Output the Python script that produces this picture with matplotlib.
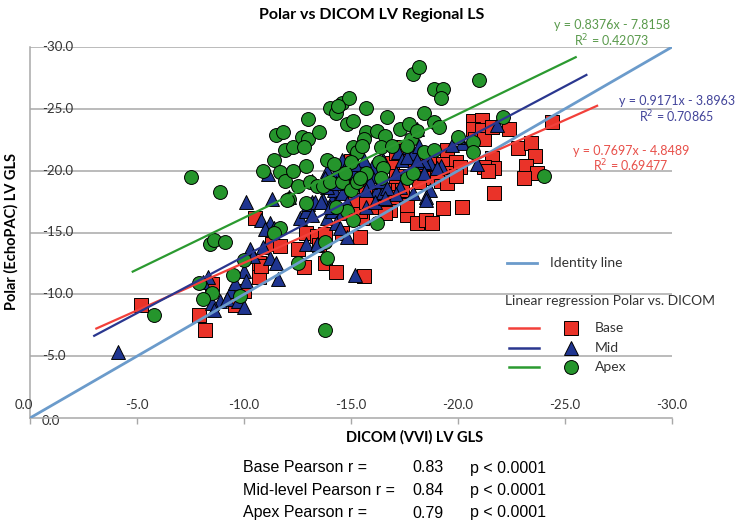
import matplotlib
matplotlib.use("Agg")
import matplotlib.pyplot as plt
from matplotlib.lines import Line2D

plt.rcParams['font.family'] = ['Lato', 'DejaVu Sans']

# ---------------------------------------------------------------------------
# Data (DICOM VVI GLS on x, Polar EchoPAC GLS on y)

base_x = [-5.2, -7.9, -8.2, -8.5, -9.6, -10.0, -10.7, -10.5, -10.7, -10.8,
          -11.3, -11.7, -12.5, -12.9, -12.8, -13.4, -13.8, -13.5, -13.8, -14.3,
          -14.6, -15.0, -15.4, -21.7, -19.3, -20.2, -17.6, -18.1, -18.5, -18.8,
          -15.5, -15.4, -15.6, -16.2, -16.8, -15.7, -17.2, -17.6, -20.7, -21.1,
          -20.7, -21.1, -20.8, -21.2, -21.6, -22.4, -21.6, -21.7, -21.2, -21.4,
          -19.5, -18.7, -19.3, -19.9, -19.6, -18.8, -19.2, -19.5, -17.3, -17.4,
          -16.9, -16.9, -17.2, -17.8, -18.0, -18.2, -15.5, -15.7, -22.8, -23.4,
          -23.6, -23.2, -23.7, -23.1, -24.4, -14.8, -17.1, -17.1, -17.4, -16.9,
          -16.3, -15.2, -15.7, -16.6, -20.1, -19.0, -18.4, -19.9, -15.0]
base_y = [-9.1, -8.3, -7.1, -10.8, -9.1, -10.3, -11.4, -16.2, -12.5, -12.3,
          -14.1, -13.9, -13.7, -15.0, -12.2, -14.7, -14.9, -14.0, -12.5, -11.8,
          -15.0, -20.8, -14.6, -18.2, -17.0, -17.1, -16.4, -15.8, -16.0, -15.8,
          -16.2, -16.7, -11.5, -17.1, -16.8, -17.9, -17.9, -17.2, -24.0, -24.1,
          -23.4, -23.3, -22.6, -22.6, -23.5, -23.4, -21.0, -20.2, -20.3, -20.0,
          -21.7, -21.1, -20.5, -20.7, -19.8, -19.4, -19.2, -19.0, -21.9, -21.6,
          -20.6, -18.4, -18.8, -19.6, -20.0, -19.1, -19.0, -18.4, -21.8, -22.2,
          -21.2, -20.4, -19.8, -19.4, -23.9, -20.4, -21.4, -19.6, -18.4, -17.9,
          -18.2, -17.6, -17.5, -16.6, -20.3, -19.9, -20.5, -19.6, -19.5]

mid_x = [-4.1, -10.1, -11.3, -11.1, -10.8, -11.2, -11.0, -11.4, -12.6, -12.9,
         -13.2, -13.0, -12.1, -10.3, -10.4, -10.9, -11.2, -11.5, -11.6, -10.0,
         -10.1, -9.4, -9.6, -8.9, -9.2, -8.5, -8.6, -9.7, -10.0, -8.3,
         -8.1, -12.9, -13.4, -13.7, -14.1, -14.2, -13.9, -14.3, -14.6, -13.9,
         -14.3, -14.8, -15.2, -14.1, -14.6, -14.8, -15.2, -13.2, -14.3, -14.5,
         -14.6, -14.8, -18.1, -21.8, -14.7, -15.3, -16.0, -16.0, -16.5, -17.2,
         -17.4, -17.7, -17.9, -18.2, -18.7, -19.2, -18.4, -17.8, -18.4, -17.1,
         -20.2, -20.9, -20.0, -19.7, -18.7, -18.5, -16.2, -16.5, -17.3, -17.1,
         -13.2, -13.8, -13.9, -14.3, -15.9, -16.4, -13.3, -15.7, -16.7, -13.6,
         -14.0, -15.7, -16.1, -16.6, -17.9, -18.5, -15.6, -15.2, -17.6, -19.0,
         -18.1]
mid_y = [-5.3, -17.5, -17.7, -19.7, -16.0, -15.8, -15.3, -15.4, -16.2, -16.7,
         -17.5, -17.3, -17.9, -13.7, -13.1, -13.8, -12.9, -12.5, -11.2, -11.9,
         -11.1, -10.3, -10.9, -9.5, -9.6, -9.3, -8.7, -9.5, -9.0, -11.4,
         -11.0, -14.1, -14.1, -17.6, -17.6, -18.4, -16.2, -17.4, -20.9, -20.0,
         -19.9, -19.8, -19.9, -16.7, -16.6, -14.6, -11.6, -16.4, -15.8, -15.4,
         -18.2, -17.4, -23.4, -23.7, -20.2, -19.3, -20.3, -19.6, -20.9, -21.5,
         -20.9, -21.9, -21.4, -22.0, -20.6, -20.4, -20.7, -19.9, -19.8, -19.8,
         -22.2, -20.5, -22.7, -22.1, -18.4, -17.9, -18.4, -18.3, -18.7, -18.1,
         -19.2, -19.4, -18.7, -19.0, -19.1, -19.2, -17.5, -18.4, -18.6, -17.5,
         -17.1, -17.1, -17.5, -17.8, -18.2, -17.6, -20.9, -20.5, -21.1, -20.2,
         -20.9]

apex_x = [-7.5, -8.9, -8.4, -8.6, -9.1, -5.8, -7.9, -8.5, -8.1, -9.5,
          -9.8, -10.0, -10.9, -11.4, -11.7, -11.9, -12.3, -12.9, -12.5, -11.5,
          -11.8, -11.9, -12.3, -12.7, -13.0, -12.8, -13.5, -13.0, -13.1, -13.4,
          -13.7, -12.1, -11.7, -11.4, -12.5, -13.8, -13.9, -13.8, -14.0, -14.3,
          -14.6, -14.8, -15.1, -13.9, -14.2, -15.1, -15.3, -14.0, -14.6, -15.0,
          -14.8, -15.1, -17.9, -18.2, -21.0, -18.9, -19.3, -19.2, -15.7, -16.7,
          -18.4, -17.3, -17.7, -18.9, -19.1, -15.7, -16.2, -15.6, -16.6, -17.8,
          -18.1, -15.5, -16.4, -16.9, -17.6, -18.4, -18.9, -20.0, -20.7, -20.7,
          -22.1, -15.0, -16.3, -16.5, -15.7, -16.4, -17.6, -17.9, -15.3, -14.7,
          -24.0, -16.2, -12.0, -12.9, -14.3, -14.9, -14.4, -15.4]
apex_y = [-19.5, -18.3, -14.1, -14.4, -14.2, -8.3, -10.9, -10.1, -9.6, -11.6,
          -9.9, -12.8, -20.0, -20.9, -19.9, -19.2, -20.0, -20.4, -18.8, -22.9,
          -23.1, -21.7, -21.9, -22.7, -22.6, -21.9, -23.1, -24.2, -19.1, -18.8,
          -18.8, -17.7, -15.4, -15.0, -12.5, -14.2, -12.9, -7.1, -25.1, -24.7,
          -25.5, -23.8, -24.0, -20.9, -20.5, -21.9, -21.5, -19.1, -19.1, -18.4,
          -16.7, -16.0, -27.8, -28.4, -27.3, -26.6, -26.6, -25.9, -25.1, -24.3,
          -24.7, -23.4, -23.8, -23.9, -23.5, -23.1, -23.2, -22.6, -22.8, -22.6,
          -23.2, -22.0, -21.9, -22.0, -22.0, -21.5, -21.7, -22.7, -22.3, -21.5,
          -24.3, -20.7, -20.7, -20.2, -19.8, -19.4, -19.4, -19.8, -19.1, -19.8,
          -19.6, -15.8, -17.6, -17.4, -17.1, -25.9, -25.2, -19.4]

# trendline coefficients and the x range each one is drawn over
series_names = ['Base', 'Mid', 'Apex']
slopes = [0.7697, 0.9171, 0.8376]
intercepts = [-4.8489, -3.8963, -7.8158]
r_squared = [0.69477, 0.70865, 0.42073]
trend_x = [(-3.1, -26.5), (-3.0, -26.0), (-4.8, -25.5)]
pearson_r = ['0.83', '0.84', '0.79']
pearson_labels = ['Base Pearson r =', 'Mid-level Pearson r =', 'Apex Pearson r =']
ticks = [0, -5, -10, -15, -20, -25, -30]

# ---------------------------------------------------------------------------
RED = '#ea3329'
BLUE = '#1f3590'
GREEN = '#25952c'
IDENT = '#6b9bcb'
LINE_COLORS = ['#f2403a', '#2a378f', '#2b9a30']
TXT_COLORS = ['#e8504a', '#42449a', '#5a9a4c']
GRID = '#a8a8a8'

fig = plt.figure(figsize=(7.4, 5.23), dpi=100)
ax = fig.add_axes([30/740, 1-418/523, 642/740, 371/523])
ax.set_xlim(0, -30)
ax.set_ylim(0, -30)

for t in ticks[1:]:
    ax.axhline(t, color=GRID, lw=1.1, zorder=0)

ax.scatter(base_x, base_y, marker='s', s=88, c=RED, edgecolors='black',
           linewidths=0.7, zorder=3)
ax.scatter(mid_x, mid_y, marker='^', s=100, c=BLUE, edgecolors='black',
           linewidths=0.7, zorder=4)
ax.scatter(apex_x, apex_y, marker='o', s=100, c=GREEN, edgecolors='black',
           linewidths=0.7, zorder=5)

# identity line and regression lines
ax.plot([0, -30], [0, -30], color=IDENT, lw=2, zorder=6)
for m, b, (x0, x1), col in zip(slopes, intercepts, trend_x, LINE_COLORS):
    ax.plot([x0, x1], [m*x0 + b, m*x1 + b], color=col, lw=1.6, zorder=7)

for side in ['top', 'right']:
    ax.spines[side].set_visible(False)
for side in ['left', 'bottom']:
    ax.spines[side].set_color(GRID)
    ax.spines[side].set_linewidth(1.1)
ax.set_xticks(ticks)
ax.set_yticks([])
ax.tick_params(axis='x', colors=GRID, length=4, width=1, labelbottom=False)

# tick labels sit inside the plot like in the Excel original
for t in ticks:
    ax.annotate('%.1f' % t if t else '0.0', xy=(t, 0), xycoords='data',
                xytext=(-6 if t == 0 else 0, 13), textcoords='offset pixels',
                ha='center', va='center', fontsize=9.5, color='#333333')
    ax.annotate('%.1f' % t if t else '0.0', xy=(0, t), xycoords='data',
                xytext=(12, -3 if t == 0 else 0), textcoords='offset pixels',
                ha='left', va='center', fontsize=9.5, color='#333333',
                zorder=1)

# ---------------------------------------------------------------------------
# overlay in pixel units for titles, legend and annotations
ov = fig.add_axes([0, 0, 1, 1], facecolor='none')
ov.set_xlim(0, 740)
ov.set_ylim(523, 0)
ov.axis('off')

ov.text(372, 15, 'Polar vs DICOM LV Regional LS', ha='center', va='center',
        fontsize=11.5, fontweight='bold', color='black')
ov.text(415, 437, 'DICOM (VVI) LV GLS', ha='center', va='center',
        fontsize=10.5, fontweight='bold', color='black')
ov.text(11, 231, 'Polar (EchoPAC) LV GLS', ha='center', va='center',
        rotation=90, fontsize=10.5, fontweight='bold', color='black')

# regression equations
eq_pos = [(631, 151, 166), (677, 101, 117), (612, 25, 41)]
for m, b, r2, (cx, y0, y1), col in zip(slopes, intercepts, r_squared, eq_pos, TXT_COLORS):
    ov.text(cx, y0, 'y = %.4fx - %.4f' % (m, -b), ha='center', va='center',
            fontsize=9, color=col)
    ov.text(cx, y1, 'R$^2$ = %.5f' % r2, ha='center', va='center',
            fontsize=9, color=col)

# legend
ov.add_line(Line2D([507, 537], [263, 263], color=IDENT, lw=2))
ov.text(550, 263, 'Identity line', ha='left', va='center', fontsize=10,
        color='#333333')
ov.text(505, 301, 'Linear regression Polar vs. DICOM', ha='left', va='center',
        fontsize=10, color='#333333')
markers = ['s', '^', 'o']
faces = [RED, BLUE, GREEN]
for i, (name, mk, fc, lc) in enumerate(zip(series_names, markers, faces, LINE_COLORS)):
    yy = 328 + i*19.5
    ov.add_line(Line2D([509, 539], [yy, yy], color=lc, lw=1.8))
    ov.add_line(Line2D([571], [yy], marker=mk, markersize=10,
                       markerfacecolor=fc, markeredgecolor='black',
                       markeredgewidth=0.7, lw=0))
    ov.text(595, yy, name, ha='left', va='center', fontsize=10, color='#333333')

# Pearson block under the chart
pfont = ['Liberation Sans Narrow', 'Liberation Sans', 'DejaVu Sans']
for i, (lab, r) in enumerate(zip(pearson_labels, pearson_r)):
    yy = 468 + i*22.5
    ov.text(243, yy, lab, ha='left', va='center', fontsize=11.5,
            family=pfont, color='black')
    ov.text(412, yy, r, ha='left', va='center', fontsize=11.5,
            family=pfont, color='black')
    ov.text(470, yy, 'p < 0.0001', ha='left', va='center', fontsize=11.5,
            family=pfont, color='black')

fig.savefig('out.png', dpi=100)
